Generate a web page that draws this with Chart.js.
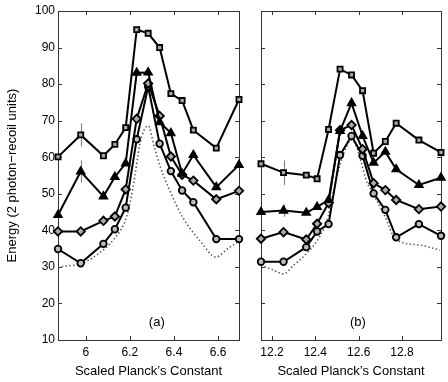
<!DOCTYPE html>
<html><head><meta charset="utf-8">
<script src="https://cdn.jsdelivr.net/npm/chart.js@4/dist/chart.umd.min.js"></script>
<style>
html,body{margin:0;padding:0;background:#fff;}
#wrap{position:relative;width:448px;height:382px;background:#fff;}
canvas{position:absolute;left:0;top:0;}
</style></head><body>
<div id="wrap"><canvas id="ca" width="448" height="382"></canvas><canvas id="cb" width="448" height="382"></canvas></div>
<script>
// ---- Panel (a) ----
const xA = [5.874, 5.977, 6.080, 6.132, 6.181, 6.231, 6.283, 6.335, 6.386, 6.437, 6.488, 6.592, 6.695];
const squaresA   = [60.1, 66.1, 60.4, 63.5, 68.1, 94.9, 93.9, 90.0, 77.4, 75.5, 67.4, 62.5, 75.8];
const trianglesA = [44.2, 56.1, 49.3, 54.6, 58.3, 83.1, 83.2, 69.6, 66.6, 55.5, 60.6, 51.8, 57.9];
const diamondsA  = [39.7, 39.7, 42.6, 43.8, 51.2, 70.5, 80.2, 71.3, 60.2, 55.2, 53.6, 48.5, 50.8];
const circlesA   = [34.9, 31.0, 36.3, 40.3, 46.2, 64.9, 79.3, 63.7, 56.2, 50.9, 47.7, 37.6, 37.6];
const theoryXA = [5.874, 5.92, 5.977, 6.05, 6.125, 6.185, 6.215, 6.246, 6.265, 6.283, 6.31, 6.34, 6.38, 6.44, 6.52, 6.59, 6.65, 6.685];
const theoryYA = [30.0, 30.3, 30.8, 33.3, 37.4, 43.7, 52.0, 63.8, 67.5, 68.6, 63.0, 57.0, 51.0, 43.5, 37.0, 32.7, 35.3, 36.6];
const errXA = 5.977;
const errSqA = [62.9, 69.3];
const errTrA = [53.0, 59.2];
const xTicksA = [6, 6.2, 6.4, 6.6];

// ---- Panel (b) ----
const xB = [12.149, 12.253, 12.358, 12.408, 12.461, 12.514, 12.567, 12.618, 12.669, 12.723, 12.773, 12.878, 12.980];
const squaresB   = [58.2, 55.8, 55.1, 54.1, 67.6, 84.1, 82.5, 78.2, 61.1, 64.3, 69.3, 64.7, 61.3];
const trianglesB = [45.0, 45.4, 44.8, 46.4, 48.3, 67.2, 74.8, 65.8, 58.5, 61.5, 56.7, 52.4, 54.4];
const diamondsB  = [37.7, 39.5, 37.5, 41.8, 47.5, 67.4, 68.8, 62.2, 52.9, 51.0, 48.3, 45.8, 46.5];
const circlesB   = [31.4, 31.4, 35.4, 39.7, 41.7, 60.6, 65.8, 60.4, 50.1, 45.6, 38.1, 41.7, 38.5];
const theoryXB = [12.149, 12.2, 12.253, 12.30, 12.36, 12.42, 12.46, 12.485, 12.52, 12.545, 12.567, 12.59, 12.61, 12.636, 12.667, 12.72, 12.77, 12.88, 12.975];
const theoryYB = [30.5, 29.3, 28.1, 30.5, 33.7, 38.3, 44.0, 51.0, 59.2, 63.0, 64.7, 63.0, 59.0, 53.5, 50.0, 44.0, 37.6, 36.0, 34.6];
const errXB = 12.253;
const errSqB = [52.4, 59.2];
const errTrB = [43.7, 47.1];
const xTicksB = [12.2, 12.4, 12.6, 12.8];

const yTicks = [10, 20, 30, 40, 50, 60, 70, 80, 90, 100];
const xTitle = "Scaled Planck\u2019s Constant";
const yTitle = "Energy (2 photon\u2212recoil units)";

const FONT = "'Liberation Sans', Arial, Helvetica, sans-serif";

function pts(xs, ys){ return xs.map((x,i)=>({x:x, y:ys[i]})); }

function series(xs, ys, style, r, bg){
  return {data:pts(xs,ys), borderColor:'#000', borderWidth:2, pointStyle:style, pointRadius:r,
    pointBorderColor:'#000', pointBackgroundColor:bg, pointBorderWidth:1.8, tension:0, clip:false, fill:false};
}

const framePlugin = {
  id:'frame',
  beforeDatasetsDraw(chart, args, opts){
    const {ctx, chartArea:a, scales} = chart;
    ctx.save();
    ctx.strokeStyle = '#333'; ctx.lineWidth = 1;
    ctx.strokeRect(Math.round(a.left)+0.5, Math.round(a.top)+0.5, Math.round(a.right-a.left), Math.round(a.bottom-a.top));
    ctx.beginPath();
    scales.x.ticks.forEach(t=>{
      const px = Math.round(scales.x.getPixelForValue(t.value))+0.5;
      ctx.moveTo(px, a.bottom); ctx.lineTo(px, a.bottom-4);
      ctx.moveTo(px, a.top); ctx.lineTo(px, a.top+4);
    });
    yTicks.forEach(v=>{
      const py = Math.round(scales.y.getPixelForValue(v))+0.5;
      ctx.moveTo(a.left, py); ctx.lineTo(a.left+4, py);
      ctx.moveTo(a.right, py); ctx.lineTo(a.right-4, py);
    });
    ctx.stroke();
    // error bars
    ctx.strokeStyle = '#888'; ctx.lineWidth = 1.2;
    ctx.beginPath();
    opts.err.forEach(e=>{
      const px = Math.round(scales.x.getPixelForValue(opts.errX))+0.5;
      ctx.moveTo(px, scales.y.getPixelForValue(e[0]));
      ctx.lineTo(px, scales.y.getPixelForValue(e[1]));
    });
    ctx.stroke();
    // panel label
    ctx.fillStyle = '#000';
    ctx.font = '13px ' + FONT;
    ctx.textAlign = 'center'; ctx.textBaseline = 'middle';
    ctx.fillText(opts.label, scales.x.getPixelForValue(opts.labelX), scales.y.getPixelForValue(14.7));
    ctx.restore();
  }
};

function makeChart(id, c){
  return new Chart(document.getElementById(id), {
    type:'line',
    data:{datasets:[
      series(c.x, c.sq, 'rect', 3.6, '#aaa'),
      series(c.x, c.tr, 'triangle', 4.3, '#000'),
      series(c.x, c.di, 'rectRot', 4.2, '#aaa'),
      series(c.x, c.ci, 'circle', 3.3, '#bbb'),
      {data:pts(c.tx, c.ty), borderColor:'#555', borderWidth:1.6, borderDash:[1.4,2.4], pointRadius:0,
        cubicInterpolationMode:'monotone', fill:false, clip:false}
    ]},
    options:{
      responsive:false, animation:false, devicePixelRatio:1,
      layout:{padding:{left:c.padL, right:c.padR, top:11, bottom:0}},
      plugins:{legend:{display:false}, tooltip:{enabled:false},
        frame:{err:c.err, errX:c.errX, label:c.label, labelX:c.labelX}},
      scales:{
        x:{type:'linear', min:c.min, max:c.max,
          grid:{display:false, drawTicks:false}, border:{display:false},
          afterBuildTicks:s=>{ s.ticks = c.xticks.map(v=>({value:v})); },
          afterFit:s=>{ s.height = 42; },
          ticks:{padding:5, color:'#000', font:{family:FONT, size:12}, maxRotation:0, autoSkip:false,
            callback:v=>String(v)},
          title:{display:true, text:xTitle, color:'#000', font:{family:FONT, size:13}, padding:{top:0, bottom:3}}
        },
        y:{type:'linear', min:10, max:100,
          grid:{display:false, drawTicks:false}, border:{display:false},
          afterBuildTicks:s=>{ s.ticks = yTicks.map(v=>({value:v})); },
          afterFit:s=>{ s.width = c.yW; },
          ticks:{display:c.showY, padding:3, color:'#000', font:{family:FONT, size:12}},
          title:{display:c.showY, text:yTitle, color:'#000', font:{family:FONT, size:13}, padding:{top:5, bottom:0}}
        }
      }
    },
    plugins:[framePlugin]
  });
}

makeChart('ca', {x:xA, sq:squaresA, tr:trianglesA, di:diamondsA, ci:circlesA, tx:theoryXA, ty:theoryYA,
  min:5.874, max:6.695, xticks:xTicksA, padL:0, padR:209, yW:58, showY:true,
  err:[errSqA, errTrA], errX:errXA, label:'(a)', labelX:6.322});
makeChart('cb', {x:xB, sq:squaresB, tr:trianglesB, di:diamondsB, ci:circlesB, tx:theoryXB, ty:theoryYB,
  min:12.149, max:12.98, xticks:xTicksB, padL:245, padR:7, yW:16, showY:false,
  err:[errSqB, errTrB], errX:errXB, label:'(b)', labelX:12.596});
</script>
</body></html>
